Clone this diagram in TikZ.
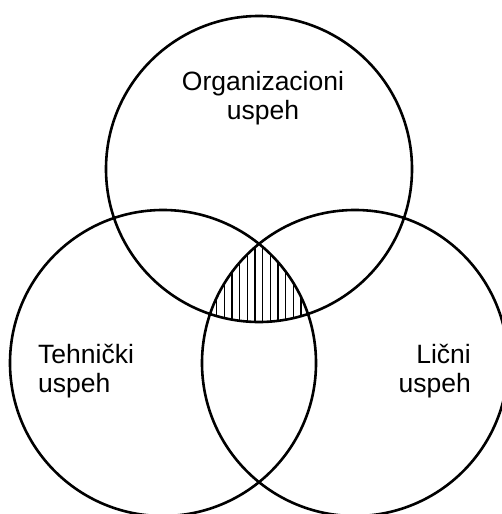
\documentclass[tikz,border=0pt]{standalone}
\usepackage{fontspec}
\setmainfont{Liberation Sans}
\begin{document}
\begin{tikzpicture}[x=1pt,y=-1pt,
  ring/.style={draw=black, line width=2.6pt},
  hatchline/.style={draw=black, line width=1.1pt},
  setlabel/.style={font=\fontsize{26.5}{29.5}\selectfont, inner sep=0pt}]
\useasboundingbox (0,0) rectangle (502,514);
% circle centres
\coordinate (cO) at (259,169);
\coordinate (cT) at (163,363);
\coordinate (cL) at (355,363);
% vertical hatching of the common area of all three sets
\begin{scope}
  \clip (cO) circle[radius=153];
  \clip (cT) circle[radius=153];
  \clip (cL) circle[radius=153];
  \foreach \k in {0,...,13}
    \draw[hatchline] ({201.3+7.67*\k},230) -- ++(0,100);
\end{scope}
% the three sets
\draw[ring] (cO) circle[radius=153];
\draw[ring] (cT) circle[radius=153];
\draw[ring] (cL) circle[radius=153];
% set labels
\node[setlabel, align=center, anchor=north] (org) at (263,71) {Organizacioni\\uspeh};
\node[setlabel, align=left, anchor=north west] (teh) at (38,344) {Tehnički\\uspeh};
\node[setlabel, align=right, anchor=north east] (lic) at (471,344) {Lični\\uspeh};
\end{tikzpicture}
\end{document}
